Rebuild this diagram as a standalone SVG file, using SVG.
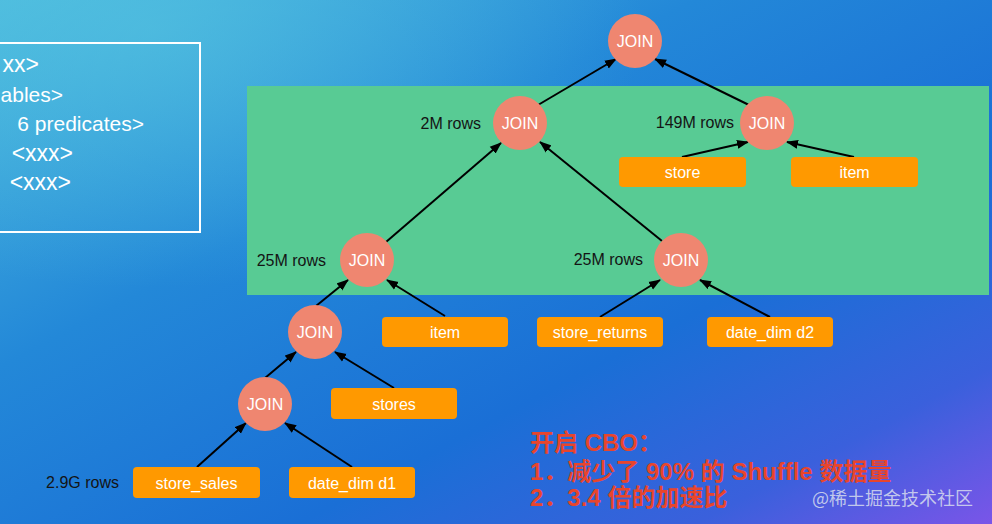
<svg xmlns="http://www.w3.org/2000/svg" width="992" height="524" viewBox="0 0 992 524">
<defs>
<linearGradient id="bg" x1="0" y1="0" x2="1" y2="1">
<stop offset="0" stop-color="#4cbade"/>
<stop offset="0.35" stop-color="#2388d8"/>
<stop offset="0.65" stop-color="#1a6fd6"/>
<stop offset="0.85" stop-color="#3a60dc"/>
<stop offset="1" stop-color="#7a55e8"/>
</linearGradient>
<radialGradient id="glow" cx="0.15" cy="0.05" r="0.5">
<stop offset="0" stop-color="#55c4e0" stop-opacity="0.6"/>
<stop offset="1" stop-color="#55c4e0" stop-opacity="0"/>
</radialGradient>
<marker id="ah" markerUnits="userSpaceOnUse" markerWidth="12" markerHeight="10" refX="11" refY="5" orient="auto">
<path d="M0,0.5 L12,5 L0,9.5 Z" fill="#000"/>
</marker>
<style>
.join circle{fill:#ef8670}
.join text{fill:#fff;font-family:"Liberation Sans",Arial,sans-serif;font-size:16px;text-anchor:middle;dominant-baseline:central}
.tbl rect{fill:#ff9900}
.tbl text{fill:#fff;font-family:"Liberation Sans",Arial,sans-serif;font-size:16px;text-anchor:middle;dominant-baseline:central}
.rows{fill:#141414;font-family:"Liberation Sans",Arial,sans-serif;font-size:16px;dominant-baseline:central}
.conn line{stroke:#000;stroke-width:2;marker-end:url(#ah)}
.sql{fill:#fff;font-family:"Liberation Sans",Arial,sans-serif;font-size:21px;dominant-baseline:central;text-anchor:end}
.sqlx{font-size:23px}
.red{fill:#e8452c;font-family:"Liberation Sans","Noto Sans CJK SC",sans-serif;font-size:24px;font-weight:bold;dominant-baseline:central}
</style>
</defs>
<rect width="992" height="524" fill="url(#bg)"/>
<rect width="992" height="524" fill="url(#glow)"/>

<g id="sql-box">
<rect x="-10" y="43" width="210" height="189" fill="none" stroke="#fff" stroke-width="2"/>
<text class="sql sqlx" x="39" y="64">xx&gt;</text>
<text class="sql" x="63" y="94">ables&gt;</text>
<text class="sql" x="144" y="123">6 predicates&gt;</text>
<text class="sql sqlx" x="73" y="153">&lt;xxx&gt;</text>
<text class="sql sqlx" x="71" y="182">&lt;xxx&gt;</text>
</g>

<rect id="highlight" x="247" y="86" width="742" height="209" fill="#58cb94"/>

<g id="connectors" class="conn">
<line x1="538" y1="105" x2="616" y2="59"/>
<line x1="749" y1="105" x2="655" y2="59"/>
<line x1="682" y1="157" x2="748" y2="142"/>
<line x1="854" y1="157" x2="787" y2="142"/>
<line x1="386" y1="242" x2="501" y2="143"/>
<line x1="662" y1="241" x2="540" y2="142"/>
<line x1="316" y1="306" x2="348" y2="280"/>
<line x1="445" y1="316" x2="387" y2="280"/>
<line x1="600" y1="317" x2="660" y2="280"/>
<line x1="770" y1="317" x2="700" y2="280"/>
<line x1="265" y1="378" x2="296" y2="352"/>
<line x1="394" y1="388" x2="335" y2="352"/>
<line x1="197" y1="467" x2="246" y2="423"/>
<line x1="352" y1="467" x2="285" y2="423"/>
</g>

<g id="join-root" class="join"><circle cx="635" cy="41" r="27"/><text x="635" y="41">JOIN</text></g>
<g id="join-2m" class="join"><circle cx="520" cy="123" r="27"/><text x="520" y="123">JOIN</text></g>
<g id="join-149m" class="join"><circle cx="767" cy="123" r="27"/><text x="767" y="123">JOIN</text></g>
<g id="join-25m-left" class="join"><circle cx="367" cy="260" r="27"/><text x="367" y="260">JOIN</text></g>
<g id="join-25m-right" class="join"><circle cx="681" cy="260" r="27"/><text x="681" y="260">JOIN</text></g>
<g id="join-mid" class="join"><circle cx="315" cy="332" r="27"/><text x="315" y="332">JOIN</text></g>
<g id="join-bottom" class="join"><circle cx="265" cy="404" r="27"/><text x="265" y="404">JOIN</text></g>

<g id="tbl-store" class="tbl"><rect x="619" y="157" width="127" height="30" rx="4"/><text x="682.5" y="172">store</text></g>
<g id="tbl-item-top" class="tbl"><rect x="791" y="157" width="127" height="30" rx="4"/><text x="854.5" y="172">item</text></g>
<g id="tbl-item" class="tbl"><rect x="382" y="317" width="126" height="30" rx="4"/><text x="445" y="332">item</text></g>
<g id="tbl-store-returns" class="tbl"><rect x="537" y="317" width="126" height="30" rx="4"/><text x="600" y="332">store_returns</text></g>
<g id="tbl-date-dim-d2" class="tbl"><rect x="707" y="317" width="126" height="30" rx="4"/><text x="770" y="332">date_dim d2</text></g>
<g id="tbl-stores" class="tbl"><rect x="331" y="388" width="126" height="31" rx="4"/><text x="394" y="404">stores</text></g>
<g id="tbl-store-sales" class="tbl"><rect x="133" y="467" width="127" height="31" rx="4"/><text x="196.5" y="483">store_sales</text></g>
<g id="tbl-date-dim-d1" class="tbl"><rect x="289" y="467" width="126" height="31" rx="4"/><text x="352" y="483">date_dim d1</text></g>

<g id="row-labels">
<text class="rows" x="481" y="123" text-anchor="end">2M rows</text>
<text class="rows" x="734" y="122" text-anchor="end">149M rows</text>
<text class="rows" x="326" y="260" text-anchor="end">25M rows</text>
<text class="rows" x="643" y="259" text-anchor="end">25M rows</text>
<text class="rows" x="119" y="482" text-anchor="end">2.9G rows</text>
</g>

<g id="cbo-note">
<text class="red" x="530" y="442">开启 CBO：</text>
<text class="red" x="530" y="471">1．减少了 90% 的 Shuffle 数据量</text>
<text class="red" x="530" y="497">2．3.4 倍的加速比</text>
</g>

<text x="973" y="497" text-anchor="end" font-family="'Noto Sans CJK SC','Liberation Sans',sans-serif" font-size="18" fill="#d6dcee" fill-opacity="0.85" dominant-baseline="central">@稀土掘金技术社区</text>
</svg>
